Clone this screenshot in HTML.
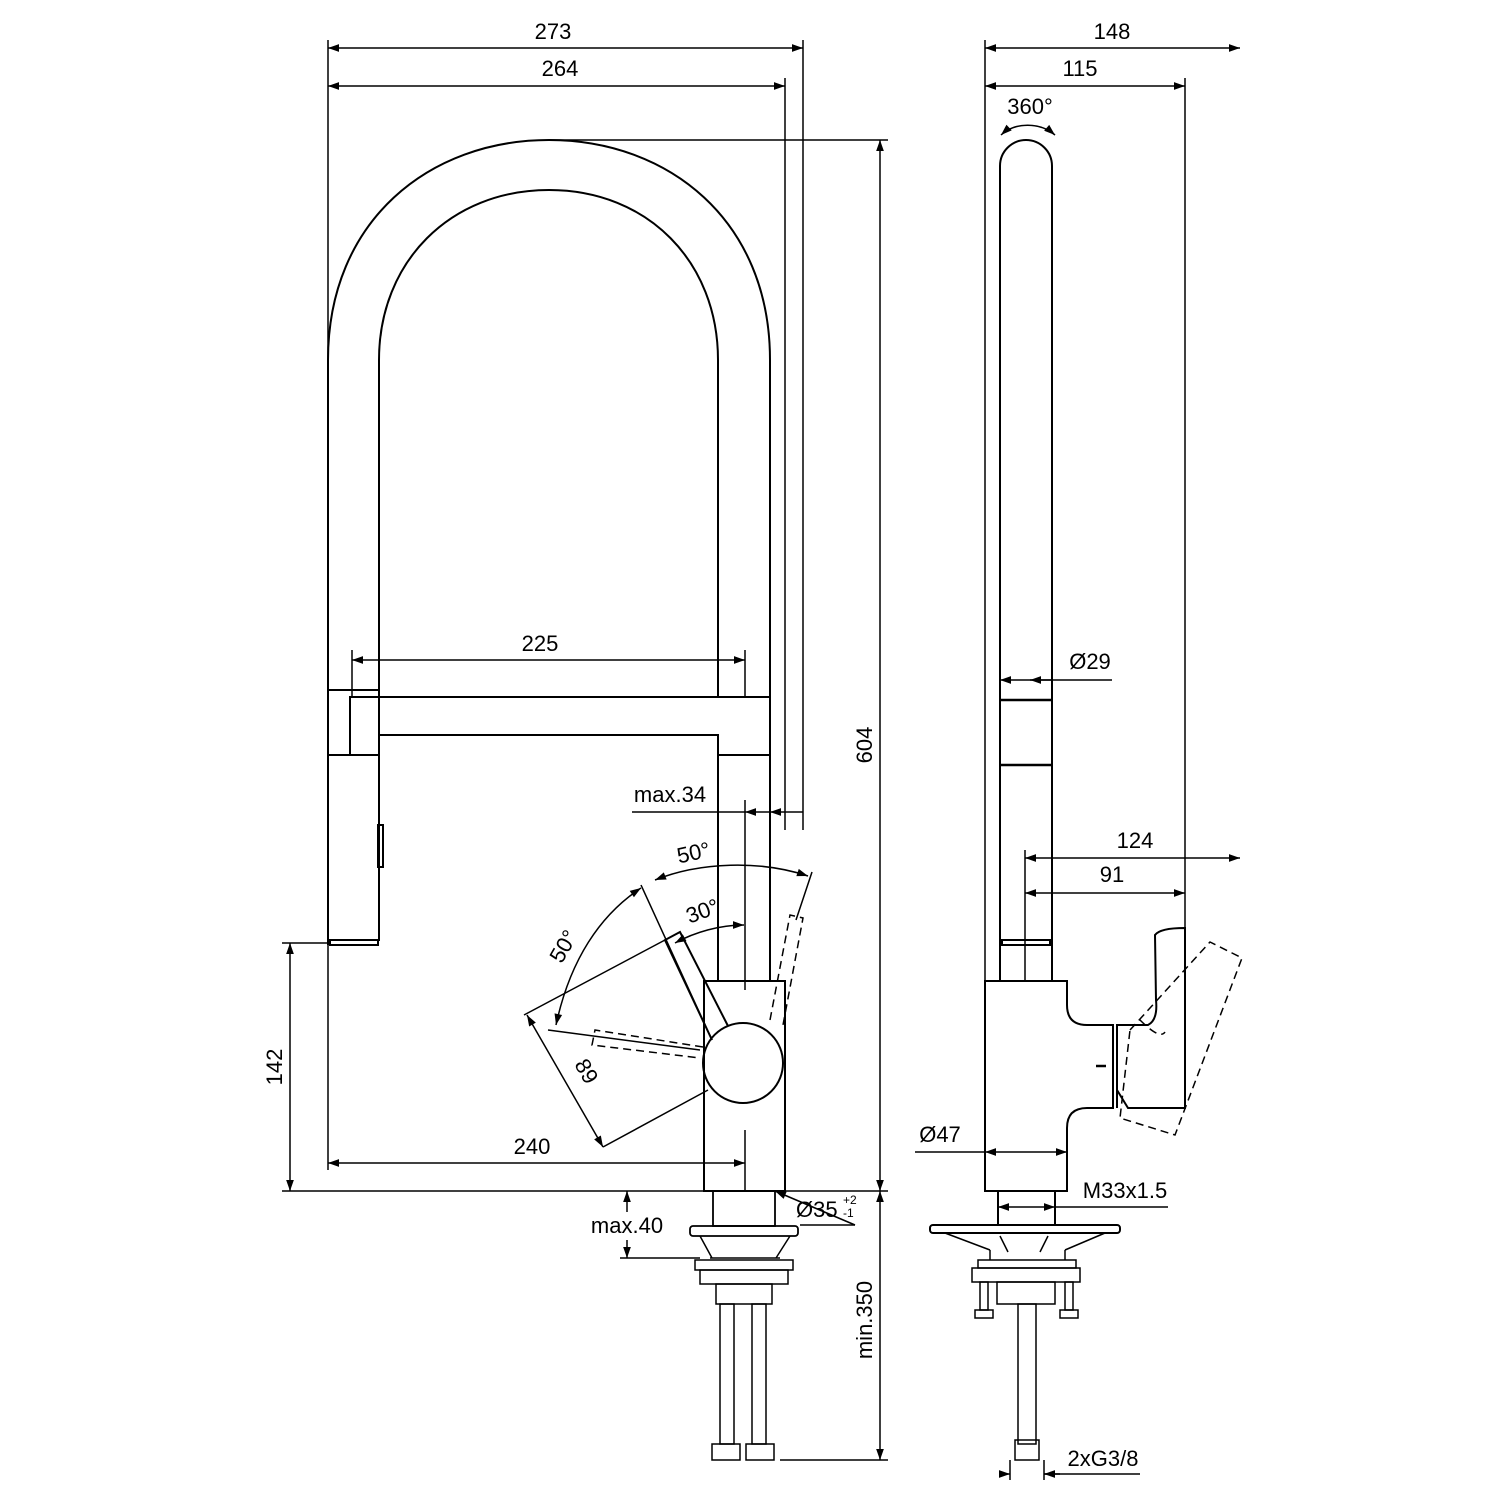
<!DOCTYPE html>
<html><head><style>html,body{margin:0;padding:0;background:#fff}svg{display:block}text{font-family:"Liberation Sans",Arial,sans-serif;font-size:22px;fill:#000}</style></head>
<body>
<svg width="1500" height="1500" viewBox="0 0 1500 1500" xmlns="http://www.w3.org/2000/svg">
<defs>
<marker id="a" viewBox="0 0 10 10" refX="10" refY="5" markerWidth="18" markerHeight="11" markerUnits="userSpaceOnUse" orient="auto-start-reverse"><path d="M0,1.5 L10,5 L0,8.5 z" fill="#000"/></marker>
</defs>
<g fill="none" stroke="#000" stroke-width="1.5">
<line x1="328" y1="40" x2="328" y2="690"/>
<line x1="803" y1="40" x2="803" y2="830"/>
<line x1="785" y1="78" x2="785" y2="830"/>
<line x1="549" y1="140" x2="888" y2="140"/>
<line x1="745" y1="800" x2="745" y2="990"/>
<line x1="745" y1="1130" x2="745" y2="1191"/>
<line x1="328" y1="945" x2="328" y2="1170"/>
<line x1="282" y1="943" x2="328" y2="943"/>
<line x1="282" y1="1191" x2="888" y2="1191"/>
<line x1="352" y1="650" x2="352" y2="697"/>
<line x1="745" y1="650" x2="745" y2="697"/>
<line x1="632" y1="812" x2="745" y2="812"/>
<line x1="620" y1="1258" x2="700" y2="1258"/>
<line x1="780" y1="1460" x2="888" y2="1460"/>
<line x1="328" y1="48" x2="803" y2="48" marker-start="url(#a)" marker-end="url(#a)"/>
<line x1="328" y1="86" x2="785" y2="86" marker-start="url(#a)" marker-end="url(#a)"/>
<line x1="880" y1="140" x2="880" y2="1191" marker-start="url(#a)" marker-end="url(#a)"/>
<line x1="290" y1="943" x2="290" y2="1191" marker-start="url(#a)" marker-end="url(#a)"/>
<line x1="328" y1="1163" x2="745" y2="1163" marker-start="url(#a)" marker-end="url(#a)"/>
<line x1="352" y1="660" x2="745" y2="660" marker-start="url(#a)" marker-end="url(#a)"/>
<line x1="770" y1="812" x2="745" y2="812" marker-end="url(#a)"/>
<line x1="770" y1="812" x2="803" y2="812" marker-start="url(#a)"/>
<line x1="627" y1="1212" x2="627" y2="1191" marker-end="url(#a)"/>
<line x1="627" y1="1240" x2="627" y2="1258" marker-end="url(#a)"/>
<line x1="880" y1="1191" x2="880" y2="1460" marker-start="url(#a)" marker-end="url(#a)"/>
<line x1="855" y1="1225" x2="775" y2="1191" marker-end="url(#a)"/>
<line x1="855" y1="1225" x2="800" y2="1225"/>
</g>
<g fill="none" stroke="#000" stroke-width="2">
<path d="M328,945 L328,360 C328,220 430,140 549,140 C668,140 770,220 770,360 L770,981"/>
<path d="M379,697 L379,360 C379,262 450,190 549,190 C648,190 718,262 718,360 L718,697 L379,697"/>
<path d="M379,735 L718,735 L718,981"/>
<rect x="350" y="697" width="29" height="58"/>
<line x1="328" y1="690" x2="379" y2="690"/>
<line x1="328" y1="755" x2="379" y2="755"/>
<line x1="718" y1="697" x2="770" y2="697"/>
<line x1="718" y1="755" x2="770" y2="755"/>
<path d="M379,755 L379,940 L328,940"/>
<rect x="378" y="825" width="5" height="42"/>
<rect x="330" y="940" width="48" height="5"/>
<rect x="704" y="981" width="81" height="210"/>
<circle cx="743" cy="1063" r="40"/>
<path d="M712,1040 L665,940 L680,932 L728,1026"/>
</g>
<g fill="none" stroke="#000" stroke-width="1.5">
<g stroke-dasharray="8,5">
<path d="M703,1047 L595,1030 L592,1045 L700,1058"/>
<path d="M770,1020 L790,915 L803,918 L783,1025"/>
</g>
<line x1="641" y1="885" x2="712" y2="1040"/>
<line x1="524" y1="1015" x2="665" y2="940"/>
<line x1="548" y1="1030" x2="700" y2="1050"/>
<line x1="796" y1="920" x2="812" y2="872"/>
<path d="M556,1025 C570,960 600,915 641,888" marker-start="url(#a)" marker-end="url(#a)"/>
<path d="M655,880 C700,862 760,860 808,876" marker-start="url(#a)" marker-end="url(#a)"/>
<path d="M675,943 C695,932 720,925 744,925" marker-start="url(#a)" marker-end="url(#a)"/>
<line x1="527" y1="1015" x2="603" y2="1147" marker-start="url(#a)" marker-end="url(#a)"/>
<line x1="603" y1="1147" x2="708" y2="1090"/>
<rect x="713" y="1191" width="62" height="35" stroke-width="1.8"/>
<rect x="690" y="1226" width="108" height="10" rx="3" stroke-width="1.8"/>
<path d="M700,1236 L712,1258 M790,1236 L776,1258 M710,1258 L780,1258"/>
<rect x="695" y="1260" width="98" height="10"/>
<rect x="700" y="1270" width="88" height="14"/>
<rect x="716" y="1284" width="56" height="20"/>
<rect x="720" y="1304" width="14" height="140"/>
<rect x="752" y="1304" width="14" height="140"/>
<rect x="712" y="1444" width="28" height="16"/>
<rect x="746" y="1444" width="28" height="16"/>
<line x1="985" y1="40" x2="985" y2="980"/>
<line x1="1185" y1="78" x2="1185" y2="930"/>
<line x1="985" y1="48" x2="1240" y2="48" marker-start="url(#a)" marker-end="url(#a)"/>
<line x1="985" y1="86" x2="1185" y2="86" marker-start="url(#a)" marker-end="url(#a)"/>
<line x1="1025" y1="850" x2="1025" y2="980"/>
<line x1="1025" y1="858" x2="1240" y2="858" marker-start="url(#a)" marker-end="url(#a)"/>
<line x1="1025" y1="893" x2="1185" y2="893" marker-start="url(#a)" marker-end="url(#a)"/>
<path d="M1001,135 C1015,122 1040,122 1055,135" marker-start="url(#a)" marker-end="url(#a)"/>
<line x1="1000" y1="680" x2="1112" y2="680" marker-start="url(#a)"/>
<line x1="1052" y1="680" x2="1030" y2="680" marker-end="url(#a)"/>
<g stroke-dasharray="8,5"><path d="M1130,1030 L1210,942 L1242,958 L1175,1135 L1120,1118 Z M1140,1020 Q1160,1040 1165,1032"/></g>
<line x1="915" y1="1152" x2="985" y2="1152"/>
<line x1="985" y1="1152" x2="1067" y2="1152" marker-start="url(#a)" marker-end="url(#a)"/>
<line x1="998" y1="1207" x2="1055" y2="1207" marker-start="url(#a)" marker-end="url(#a)"/>
<line x1="1055" y1="1207" x2="1168" y2="1207"/>
<path d="M945,1233 L990,1250 M1105,1233 L1065,1250 M990,1250 L990,1260 M1065,1250 L1065,1260 M1000,1236 L1008,1252 M1048,1236 L1040,1252"/>
<rect x="978" y="1260" width="98" height="8"/>
<rect x="972" y="1268" width="108" height="14"/>
<rect x="997" y="1282" width="58" height="22"/>
<rect x="980" y="1282" width="8" height="28"/><rect x="1065" y="1282" width="8" height="28"/>
<rect x="975" y="1310" width="18" height="8"/><rect x="1060" y="1310" width="18" height="8"/>
<rect x="1018" y="1304" width="18" height="140"/>
<rect x="1015" y="1440" width="24" height="20"/>
<line x1="1000" y1="1474" x2="1010" y2="1474" marker-end="url(#a)"/>
<line x1="1044" y1="1474" x2="1140" y2="1474"/>
<line x1="1060" y1="1474" x2="1044" y2="1474" marker-end="url(#a)"/>
<line x1="1010" y1="1460" x2="1010" y2="1480"/><line x1="1044" y1="1460" x2="1044" y2="1480"/>
</g>
<g fill="none" stroke="#000" stroke-width="2">
<path d="M1000,981 L1000,166 A26,26 0 0 1 1052,166 L1052,981"/>
<line x1="1000" y1="700" x2="1052" y2="700" stroke-width="2.5"/>
<line x1="1000" y1="765" x2="1052" y2="765" stroke-width="2.5"/>
<rect x="1002" y="940" width="48" height="5"/>
<path d="M985,1191 L985,981 L1067,981 L1067,1005 Q1067,1025 1087,1025 L1113,1025 L1113,1108 L1087,1108 Q1067,1108 1067,1128 L1067,1191 Z"/>
<line x1="1096" y1="1066" x2="1106" y2="1066" stroke-width="2.5"/>
<path d="M1117,1025 L1148,1025 Q1158,1020 1156,1000 L1155,935 Q1160,928 1185,928 L1185,1108 L1128,1108 L1117,1090 Z"/>
<path d="M1117,1025 L1117,1108"/>
<rect x="998" y="1191" width="57" height="34"/>
<rect x="930" y="1225" width="190" height="8" rx="3"/>
</g>
<text x="553" y="39" text-anchor="middle">273</text>
<text x="560" y="76" text-anchor="middle">264</text>
<text x="540" y="651" text-anchor="middle">225</text>
<text x="670" y="802" text-anchor="middle">max.34</text>
<text x="532" y="1154" text-anchor="middle">240</text>
<text x="627" y="1233" text-anchor="middle">max.40</text>
<text x="796" y="1217">Ø35</text><text x="843" y="1204" style="font-size:12px">+2</text><text x="843" y="1217" style="font-size:12px">-1</text>
<text transform="translate(872,745) rotate(-90)" text-anchor="middle">604</text>
<text transform="translate(282,1067) rotate(-90)" text-anchor="middle">142</text>
<text transform="translate(872,1320) rotate(-90)" text-anchor="middle">min.350</text>
<text transform="translate(695,860) rotate(-12)" text-anchor="middle">50°</text>
<text transform="translate(705,918) rotate(-20)" text-anchor="middle">30°</text>
<text transform="translate(570,950) rotate(-60)" text-anchor="middle">50°</text>
<text transform="translate(580,1075) rotate(60)" text-anchor="middle">89</text>
<text x="1112" y="39" text-anchor="middle">148</text>
<text x="1080" y="76" text-anchor="middle">115</text>
<text x="1030" y="114" text-anchor="middle">360°</text>
<text x="1090" y="669" text-anchor="middle">Ø29</text>
<text x="1135" y="848" text-anchor="middle">124</text>
<text x="1112" y="882" text-anchor="middle">91</text>
<text x="940" y="1142" text-anchor="middle">Ø47</text>
<text x="1125" y="1198" text-anchor="middle">M33x1.5</text>
<text x="1103" y="1466" text-anchor="middle">2xG3/8</text>
</svg>
</body></html>
